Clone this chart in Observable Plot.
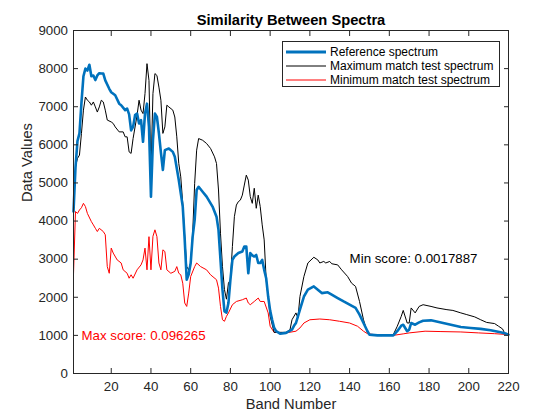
<!DOCTYPE html>
<html>
<head>
<meta charset="utf-8">
<script src="https://cdn.jsdelivr.net/npm/d3@7"></script>
<script src="https://cdn.jsdelivr.net/npm/@observablehq/plot@0.6"></script>
<style>
  html, body { margin: 0; padding: 0; background: #fff; }
  #wrap { position: relative; width: 560px; height: 420px; font-family: "Liberation Sans", Arial, sans-serif; }
  #legend { position: absolute; left: 282px; top: 41px; width: 218px; height: 46px; border: 1px solid #262626; background: #fff; box-sizing: border-box; }
  .row { position: absolute; left: 0; height: 14px; display: flex; align-items: center; font-size: 12px; color: #000; white-space: nowrap; }
  .row svg { margin-left: 3px; margin-right: 4px; }
</style>
</head>
<body>
<div id="wrap"></div>
<script>
// ---- Data ----
const title = "Similarity Between Spectra";
const xLabel = "Band Number";
const yLabel = "Data Values";
const seriesNames = ["Reference spectrum", "Maximum match test spectrum", "Minimum match test spectrum"];
const xTicks = [20, 40, 60, 80, 100, 120, 140, 160, 180, 200, 220];
const yTicks = [0, 1000, 2000, 3000, 4000, 5000, 6000, 7000, 8000, 9000];

const refBands = [1,2,3,4,5,6,7,8,9,10,11,12,13,14,15,16,17,19,20,21,22,24,25,27,28,29,30,31,32,33,34,35,36,37,38,39,40,41,42,43,44,45,46,47,49,51,52,54,56,57,58,59,60,61,62,63,64,66,68,71,73,74,75,76,77,78,79,80,81,82,84,86,87,88,89,90,91,92,93,94,95,96,97,98,99,100,101,102,103,105,108,111,112,113,114,115,117,119,122,124,126,129,131,134,137,140,143,145,147,149,150,154,162,164,166,167,169,170,171,173,175,177,181,186,191,196,201,206,211,216,219,220];
const refValues = [4250,5400,6100,6300,7100,7800,8000,7950,8100,7800,7820,7700,7820,7880,7870,7870,7690,7470,7380,7340,7300,7080,7040,6910,6950,6800,6380,6470,6780,6820,6560,6650,6080,6820,7080,6470,4640,6120,6820,6730,6300,5800,5340,5860,5905,5815,5685,5075,4380,3500,2460,2600,2900,3600,4030,4815,4900,4770,4640,4380,4115,3770,2980,2200,1630,1600,1850,2460,2980,3070,3160,3200,3330,3330,2630,3160,3100,3070,3110,2900,2900,2980,2720,2500,2020,1650,1410,1200,1110,1045,1065,1150,1250,1325,1500,1675,2020,2200,2285,2200,2110,2130,2070,1980,1890,1805,1720,1545,1325,1110,1020,1000,1000,1110,1255,1280,1110,1150,1325,1280,1340,1385,1395,1340,1280,1220,1195,1170,1135,1080,1040,1020];

const maxBands = [1,2,3,4,5,6,7,8,9,10,11,12,13,14,15,16,17,18,20,21,22,24,26,27,28,29,30,31,33,34,35,36,37,38,39,40,41,42,43,44,45,46,47,48,49,51,52,53,54,55,56,57,58,59,60,61,62,63,64,66,68,70,72,73,74,75,76,77,78,79,80,81,82,83,84,85,86,87,88,89,90,91,92,93,94,95,96,97,98,99,100,102,108,110,111,113,114,115,117,119,122,124,125,127,128,130,131,134,136,139,141,143,145,147,149,151,156,162,164,166,167,169,170,171,173,175,177,181,184,189,192,196,199,203,206,209,213,215,217,218,220];
const maxValues = [4300,5425,5645,5730,6300,6910,7255,7170,7125,7040,7125,6995,6860,6995,7170,7125,6910,6650,6600,6560,6470,6340,6340,6210,6210,5815,5775,6165,6775,7170,6910,6820,7345,8130,7690,5300,7345,7870,7820,7515,7170,6300,6470,7040,6995,6910,6730,6210,5510,5160,4465,3590,2805,2720,2900,3680,4990,5860,6165,6120,6035,5905,5685,5510,4815,3680,2805,2200,1950,2370,2460,3330,4115,4420,4510,4550,4680,4945,5205,5075,4640,4465,4860,4335,4680,4380,3900,3505,2460,2000,1500,1080,1080,1150,1410,1590,1455,2020,2545,2900,3050,2980,2900,2940,2900,2940,2880,2850,2720,2545,2370,2285,1890,1410,1065,1000,995,1020,1240,1500,1655,1325,1325,1720,1590,1760,1805,1760,1720,1675,1655,1590,1545,1485,1410,1340,1310,1240,1170,1065,1020];

const minBands = [1,2,3,4,5,6,7,8,10,11,12,13,14,16,17,18,19,20,21,23,25,26,28,29,30,31,33,35,36,37,38,39,40,41,42,43,44,45,46,47,48,50,52,53,54,55,56,57,58,59,60,62,63,65,68,70,73,74,75,76,77,78,79,81,83,86,88,89,90,92,94,95,97,99,100,102,108,113,115,117,120,125,130,135,140,144,147,149,155,162,167,170,178,186,196,205,213,220];
const minValues = [2600,4250,4200,4290,4350,4465,4380,4200,3985,3900,3810,3725,3810,3725,3640,2805,2630,3290,3160,2980,2900,2720,2630,2500,2590,2500,2720,2850,2980,3290,2720,3590,2720,3600,3770,3590,2900,2720,3245,3200,2720,2630,2680,2805,2630,2590,2370,1850,1760,2110,2545,2805,2900,2805,2720,2590,2460,2240,1760,1410,1370,1500,1590,1805,1890,1935,1980,1850,1805,1890,1980,1890,1890,1590,1240,1080,1065,1110,1195,1325,1410,1430,1410,1370,1325,1240,1110,1045,1000,1000,1040,1065,1110,1100,1090,1065,1045,1020];

const annotations = [
  {band: 5, value: 1000, text: "Max score: 0.096265", color: "#FF0000"},
  {band: 140, value: 3000, text: "Min score: 0.0017887", color: "#000000"}
];

// ---- Build tables ----
const colors = ["#0072BD", "#000000", "#FF0000"];
const widths = [2.6, 1, 1];
const toRows = (bands, values) => bands.map((b, i) => ({band: b, value: values[i]}));
const refRows = toRows(refBands, refValues);
const maxRows = toRows(maxBands, maxValues);
const minRows = toRows(minBands, minValues);

const axisColor = "#262626";
const fmt = d => String(d);

const chart = Plot.plot({
  width: 560,
  height: 420,
  marginLeft: 73,
  marginRight: 52,
  marginTop: 30,
  marginBottom: 47,
  style: {fontFamily: "'Liberation Sans', Arial, sans-serif", background: "#fff", overflow: "visible"},
  x: {domain: [1, 220]},
  y: {domain: [0, 9000]},
  marks: [
    Plot.lineY(minRows, {x: "band", y: "value", stroke: colors[2], strokeWidth: widths[2]}),
    Plot.lineY(maxRows, {x: "band", y: "value", stroke: colors[1], strokeWidth: widths[1]}),
    Plot.lineY(refRows, {x: "band", y: "value", stroke: colors[0], strokeWidth: widths[0]}),
    Plot.text(annotations, {x: "band", y: "value", text: "text", fill: "color", textAnchor: "start", lineAnchor: "middle", fontSize: 13.3}),
    Plot.frame({stroke: axisColor}),
    // inward ticks on all four sides
    Plot.axisX(xTicks, {anchor: "bottom", tickSize: -5, text: null, stroke: axisColor, label: null}),
    Plot.axisX(xTicks, {anchor: "top", tickSize: -5, text: null, stroke: axisColor, label: null}),
    Plot.axisY(yTicks, {anchor: "left", tickSize: -5, text: null, stroke: axisColor, label: null}),
    Plot.axisY(yTicks, {anchor: "right", tickSize: -5, text: null, stroke: axisColor, label: null}),
    // tick labels
    Plot.axisX(xTicks, {anchor: "bottom", tickSize: 0, tickPadding: 8, tickFormat: fmt, fontSize: 13.3, fill: axisColor, label: null}),
    Plot.axisY(yTicks, {anchor: "left", tickSize: 0, tickPadding: 5.5, tickFormat: fmt, fontSize: 13.3, fill: axisColor, label: null}),
    // title and axis labels
    Plot.text([title], {frameAnchor: "top", dy: -10, text: d => d, fontWeight: "bold", fontSize: 14.7, fill: "#000", lineAnchor: "middle"}),
    Plot.text([xLabel], {frameAnchor: "bottom", dy: 31, text: d => d, fontSize: 14.7, fill: axisColor, lineAnchor: "middle"}),
    Plot.text([yLabel], {frameAnchor: "left", dx: -46, rotate: -90, text: d => d, fontSize: 14.7, fill: axisColor, lineAnchor: "middle"})
  ]
});

const wrap = document.getElementById("wrap");
wrap.appendChild(chart);

// legend overlay
const legend = document.createElement("div");
legend.id = "legend";
const rowTops = [3, 17, 31];
seriesNames.forEach((name, i) => {
  const row = document.createElement("div");
  row.className = "row";
  row.style.top = rowTops[i] + "px";
  row.innerHTML = `<svg width="40" height="6"><line x1="0" x2="40" y1="3" y2="3" stroke="${colors[i]}" stroke-width="${i === 0 ? 3 : 1}"/></svg><span>${name}</span>`;
  legend.appendChild(row);
});
wrap.appendChild(legend);
</script>
</body>
</html>
